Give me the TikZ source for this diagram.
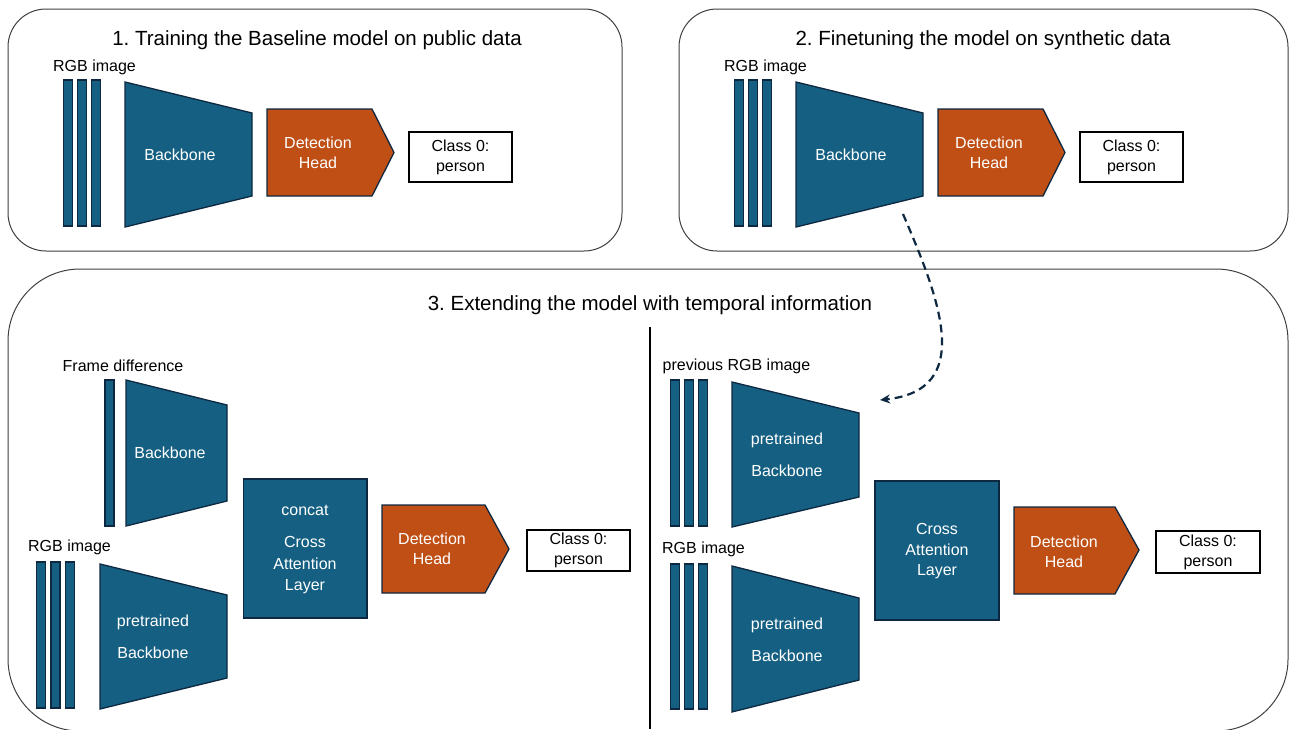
\documentclass[tikz,border=0pt]{standalone}
\usepackage{fontspec}
\setmainfont{Liberation Sans}
\usetikzlibrary{arrows.meta}
\definecolor{bbfill}{HTML}{156082}
\definecolor{dhfill}{HTML}{C04F15}
\definecolor{edgec}{HTML}{0E2841}
\frenchspacing
\begin{document}
\begin{tikzpicture}[x=1pt,y=-1pt,
  panel/.style={draw=black!75, line width=1pt, rounded corners=#1},
  bar/.style={draw=edgec, fill=bbfill, line width=1.3pt},
  bb/.style={draw=edgec, fill=bbfill, line width=1.3pt, line join=miter},
  dh/.style={draw=edgec, fill=dhfill, line width=1.3pt, line join=miter},
  wtext/.style={text=white, font=\fontsize{16}{20}\selectfont, align=center, inner sep=0pt},
  lbl/.style={text=black, font=\fontsize{16}{20}\selectfont, inner sep=0pt},
  ttl/.style={text=black, font=\fontsize{20.5}{24}\selectfont, inner sep=0pt},
  cls/.style={draw=black, line width=2pt, fill=white, inner sep=0pt, align=center,
    font=\fontsize{16}{20}\selectfont, minimum width=#1},
  divline/.style={draw=black, line width=1.5pt},
  dasharrow/.style={draw=edgec, line width=2.2pt, dash pattern=on 8pt off 5pt,
    -{Stealth[length=10pt,width=9pt]}}
]
\useasboundingbox (0,0) rectangle (1297,729);
\fill[white] (0,0) rectangle (1297,729);

% ---------- Panel 1 ----------
\draw[panel=38pt] (8,9) rectangle (622,251);
\node[ttl] (t1) at (317,40) {1. Training the Baseline model on public data};
\node[lbl] (l1) at (94.5,67) {RGB image};
\foreach \c in {68,82,96} \draw[bar] (\c-4.5,80) rectangle (\c+4.5,226);
\draw[bb] (125,82) -- (252,113) -- (252,196) -- (125,227) -- cycle;
\node[wtext] (b1) at (180,155) {Backbone};
\draw[dh] (267,109) -- (372,109) -- (394,152.5) -- (372,196) -- (267,196) -- cycle;
\node[wtext] (h1) at (318,153) {Detection\\Head};
\node[cls=103pt, minimum height=50pt] (c1) at (460.5,157) {Class 0:\\person};

% ---------- Panel 2 ----------
\draw[panel=38pt] (679,9) rectangle (1288,251);
\node[ttl] (t2) at (983,40) {2. Finetuning the model on synthetic data};
\node[lbl] (l2) at (765.5,67) {RGB image};
\foreach \c in {739,753,767} \draw[bar] (\c-4.5,80) rectangle (\c+4.5,226);
\draw[bb] (796,82) -- (923,113) -- (923,196) -- (796,227) -- cycle;
\node[wtext] (b2) at (851,155) {Backbone};
\draw[dh] (938,109) -- (1043,109) -- (1065,152.5) -- (1043,196) -- (938,196) -- cycle;
\node[wtext] (h2) at (989,153) {Detection\\Head};
\node[cls=103pt, minimum height=50pt] (c2) at (1131.5,157) {Class 0:\\person};

% ---------- Panel 3 ----------
\draw[panel=72pt] (8,269) rectangle (1288,731);
\node[ttl] (t3) at (650,305) {3. Extending the model with temporal information};
\coordinate (dtop) at (650,327);
\coordinate (dbot) at (650,729);
\draw[divline] (dtop) -- (dbot);

% left part
\node[lbl] (lfd) at (123,366) {Frame difference};
\draw[bar] (105,380) rectangle (114,526);
\draw[bb] (126,380) -- (227,405) -- (227,501) -- (126,526) -- cycle;
\node[wtext] (bfd) at (170,453) {Backbone};
\node[lbl] (lrgb1) at (69.5,547) {RGB image};
\foreach \c in {41,55.5,70} \draw[bar] (\c-4.5,562) rectangle (\c+4.5,708);
\draw[bb] (100,564) -- (227,595) -- (227,678) -- (100,709) -- cycle;
\node[wtext] (bpre1) at (153,637) {pretrained\\[12pt]Backbone};
\draw[bb] (243.5,479) rectangle (367,618);
\node[wtext, font=\fontsize{16}{21.5}\selectfont] (cal1) at (305,549.5) {concat\\[10.5pt]Cross\\Attention\\Layer};
\draw[dh] (382,505) -- (485,505) -- (509,549) -- (485,593) -- (382,593) -- cycle;
\node[wtext] (h3) at (432,549) {Detection\\Head};
\node[cls=103pt, minimum height=41pt] (c3) at (578.5,550.5) {Class 0:\\person};

% right part
\node[lbl] (lprev) at (736.5,366) {previous RGB image};
\foreach \c in {675,689,703} \draw[bar] (\c-4.5,380) rectangle (\c+4.5,526);
\draw[bb] (732,382) -- (859,413) -- (859,497) -- (732,527) -- cycle;
\node[wtext] (bpre2) at (787,455) {pretrained\\[12pt]Backbone};
\node[lbl] (lrgb2) at (703.5,549) {RGB image};
\foreach \c in {675,689,703} \draw[bar] (\c-4.5,564) rectangle (\c+4.5,709);
\draw[bb] (732,566) -- (859,598) -- (859,680) -- (732,712) -- cycle;
\node[wtext] (bpre3) at (787,639.5) {pretrained\\[12pt]Backbone};
\draw[bb] (875,481) rectangle (999,620);
\node[wtext, font=\fontsize{16}{20.5}\selectfont] (cal2) at (937,551.5) {Cross\\Attention\\Layer};
\draw[dh] (1014,507) -- (1115,507) -- (1139,550) -- (1115,594) -- (1014,594) -- cycle;
\node[wtext] (h4) at (1064,551.5) {Detection\\Head};
\node[cls=104pt, minimum height=42pt] (c4) at (1208,552) {Class 0:\\person};

% dashed transfer arrow
\coordinate (arrS) at (903,214);
\coordinate (arrE) at (880,400);
\draw[dasharrow] (arrS) .. controls (940,300) and (975,390) .. (arrE);
\end{tikzpicture}
\end{document}
